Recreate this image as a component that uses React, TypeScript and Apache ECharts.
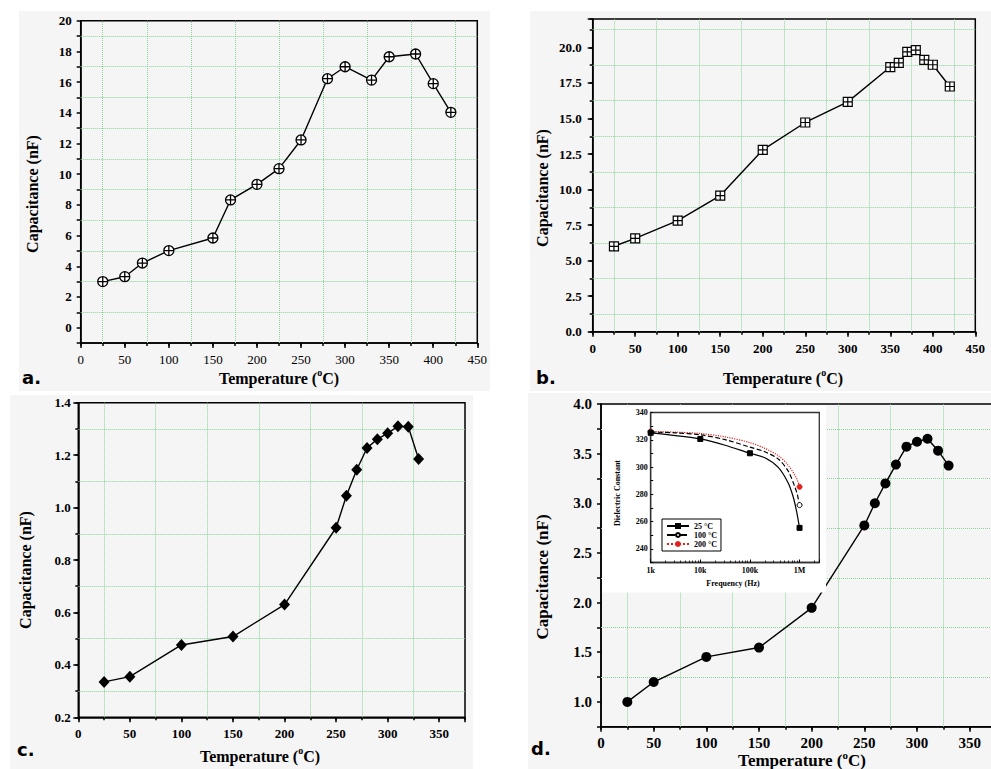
import React, { useEffect, useRef } from 'react';
import * as echarts from 'echarts';

// ---------- Panel a ----------
const tempA = [25, 50, 70, 100, 150, 170, 200, 225, 250, 280, 300, 330, 350, 380, 400, 420];
const capA = [3.0, 3.32, 4.21, 5.02, 5.84, 8.32, 9.34, 10.36, 12.23, 16.22, 17.0, 16.13, 17.65, 17.83, 15.9, 14.03];
const gridXA = [25, 75, 125, 175, 225, 275, 325, 375, 425];
const gridYA = [1, 3, 5, 7, 9, 11, 13, 15, 17, 19];

// ---------- Panel b ----------
const tempB = [25, 50, 100, 150, 200, 250, 300, 350, 360, 370, 380, 390, 400, 420];
const capB = [6.01, 6.57, 7.82, 9.58, 12.79, 14.72, 16.17, 18.62, 18.92, 19.69, 19.81, 19.13, 18.78, 17.25];
const gridXB = [25, 75, 125, 175, 225, 275, 325, 375, 425];
const gridYB = [1.25, 3.75, 6.25, 8.75, 11.25, 13.75, 16.25, 18.75, 21.25];

// ---------- Panel c ----------
const tempC = [25, 50, 100, 150, 200, 250, 260, 270, 280, 290, 300, 310, 320, 330];
const capC = [0.335, 0.355, 0.476, 0.508, 0.63, 0.923, 1.045, 1.144, 1.227, 1.261, 1.283, 1.31, 1.308, 1.185];
const gridXC = [25, 75, 125, 175, 225, 275, 325];
const gridYC = [0.3, 0.5, 0.7, 0.9, 1.1, 1.3];

// ---------- Panel d ----------
const tempD = [25, 50, 100, 150, 200, 250, 260, 270, 280, 290, 300, 310, 320, 330];
const capD = [1.0, 1.2, 1.453, 1.547, 1.947, 2.777, 3.0, 3.2, 3.39, 3.57, 3.62, 3.65, 3.53, 3.38];
const gridXD = [25, 75, 125, 175, 225, 275, 325];
const gridYD = [1.25, 1.75, 2.25, 2.75, 3.25, 3.75];

// ---------- Inset (panel d) : dielectric constant vs frequency ----------
const freq25 = [1000, 3160, 10000, 31600, 100000, 200000, 372000, 587000, 738000, 859000, 1000000];
const eps25 = [325.1, 323.1, 320.6, 316.0, 310.1, 306.8, 299.7, 288.5, 278.6, 268.6, 255.4];
const marks25 = [0, 2, 4, 10];
const freq100 = [1000, 3160, 10000, 31600, 100000, 200000, 372000, 587000, 794000, 900000, 1000000];
const eps100 = [325.6, 325.1, 323.6, 320.1, 314.6, 311.2, 305.9, 297.2, 286.0, 280.0, 272.1];
const marks100 = [0, 10];
const freq200 = [1000, 3160, 10000, 31600, 100000, 200000, 372000, 587000, 859000, 1000000];
const eps200 = [326.0, 325.6, 324.6, 322.1, 317.9, 313.7, 308.4, 301.4, 292.2, 285.5];
const marks200 = [0, 9];
const insetXLabels = ['1k', '10k', '100k', '1M'];
const legendNames = ['25 °C', '100 °C', '200 °C'];

const SERIF = "'Liberation Serif', 'Times New Roman', serif";
const SANS = "'DejaVu Sans', Verdana, sans-serif";
const GREEN = '#86d49a';
const PANEL_BG = '#f5f5f5';

const SYM_CIRCLE_PLUS = 'path://M10 0A10 10 0 1 1 -10 0A10 10 0 1 1 10 0ZM-10 0L10 0M0 -10L0 10';
const SYM_SQUARE_PLUS = 'path://M-10 -10L10 -10L10 10L-10 10ZM-10 0L10 0M0 -10L0 10';

const isMult = (v: number, s: number) => Math.abs(v / s - Math.round(v / s)) < 1e-6;

type AxOpts = {
  type?: string; interval?: number; fmt?: ((v: number) => string) | null; fontSize?: number; fontWeight?: string;
  margin?: number; tickLen?: number; tickWidth?: number; inside?: boolean; showLine?: boolean; z?: number;
  lineColor?: string; lineWidth?: number; minor?: any;
};

function makeAxis(dim: 'x' | 'y', gi: number, min: number, max: number, o: AxOpts) {
  const ax: any = {
    type: o.type || 'value', gridIndex: gi, min, max, position: dim === 'x' ? 'bottom' : 'left', z: o.z ?? 0,
    splitLine: { show: false }, minorSplitLine: { show: false },
    minorTick: o.minor || { show: false },
    axisLine: { show: o.showLine !== false, onZero: false, lineStyle: { color: o.lineColor || '#000', width: o.lineWidth ?? 1.5 } },
    axisTick: { show: true, inside: !!o.inside, length: o.tickLen ?? 5, lineStyle: { color: '#000', width: o.tickWidth ?? 1.5 } },
    axisLabel: o.fmt
      ? { show: true, formatter: o.fmt, margin: o.margin ?? 8, color: '#000', fontFamily: SERIF, fontSize: o.fontSize ?? 13, fontWeight: o.fontWeight || 'bold', hideOverlap: false, showMinLabel: true, showMaxLabel: true }
      : { show: false },
  };
  if (o.interval != null) ax.interval = o.interval;
  if (o.type === 'log') ax.logBase = 10;
  return ax;
}

function mainSeries(xi: number, yi: number, xs: number[], ys: number[], symbol: string, size: any, itemStyle: any, gx: number[], gy: number[]) {
  return {
    type: 'line', xAxisIndex: xi, yAxisIndex: yi, data: xs.map((x, i) => [x, ys[i]]),
    symbol, symbolSize: size, showSymbol: true, showAllSymbol: true, silent: true,
    itemStyle, lineStyle: { color: '#000', width: 1.4 }, z: 3,
    markLine: {
      silent: true, z: 1, symbol: ['none', 'none'], label: { show: false }, emphasis: { disabled: true },
      lineStyle: { color: GREEN, type: 'dotted', width: 1 },
      data: [...gx.map((v) => ({ xAxis: v })), ...gy.map((v) => ({ yAxis: v }))],
    },
  };
}

function insetSeries(name: string, xi: number, yi: number, fs: number[], es: number[], marks: number[], symbol: string,
  color: string, fill: string, lineType: string, z: number) {
  return {
    type: 'line', name, xAxisIndex: xi, yAxisIndex: yi, z, smooth: 0.3,
    symbol, symbolSize: 5, showSymbol: true, showAllSymbol: true, silent: true,
    data: fs.map((f, i) => ({ value: [f, es[i]], symbol: marks.includes(i) ? symbol : 'none' })),
    lineStyle: { color, width: 1.2, type: lineType },
    itemStyle: { color: fill, borderColor: color, borderWidth: 1 },
  };
}

function title(text: string, x: number, y: number, size: number, rotate = false, family = SERIF, align = 'center') {
  return {
    type: 'text', x, y, rotation: rotate ? Math.PI / 2 : 0, z: 20, silent: true,
    style: {
      text, fill: '#000', fontFamily: family, fontSize: size, fontWeight: 'bold', align, verticalAlign: 'middle',
      rich: {
        m: { fontSize: size, fontFamily: family, fontWeight: 'bold', fill: '#000', lineHeight: Math.round(size * 1.3) },
        s: { fontSize: Math.round(size * 0.62), fontFamily: family, fontWeight: 'bold', fill: '#000', verticalAlign: 'top', lineHeight: Math.round(size * 0.62) },
      },
    },
  };
}

function tempTitle(x: number, y: number, size: number) {
  return title('{m|Temperature (}{s|o}{m|C)}', x, y, size);
}

function rect(x: number, y: number, w: number, h: number, fill: string, z: number) {
  return { type: 'rect', shape: { x, y, width: w, height: h }, style: { fill }, z, silent: true };
}

function buildOption() {
  const m50 = (v: number) => (isMult(v, 50) ? String(Math.round(v)) : '');
  const even = (v: number) => (isMult(v, 2) ? String(Math.round(v)) : '');
  const m25d = (v: number) => (isMult(v, 2.5) ? v.toFixed(1) : '');
  const f1 = (v: number) => v.toFixed(1);
  const m05 = (v: number) => (isMult(v, 0.5) ? v.toFixed(1) : '');
  const m20 = (v: number) => (isMult(v, 20) ? String(Math.round(v)) : '');
  const logFmt = (v: number) => {
    const l = Math.log10(v);
    const r = Math.round(l);
    return Math.abs(l - r) < 0.01 && r >= 3 && r <= 6 ? insetXLabels[r - 3] : '';
  };

  const gridBase = { show: true, borderColor: '#000', borderWidth: 1.5, backgroundColor: 'rgba(0,0,0,0)', containLabel: false, outerBoundsMode: 'none' };
  const grid = [
    { ...gridBase, left: 80.7, top: 20.7, width: 396.6, height: 322.3 },
    { ...gridBase, left: 592.7, top: 19, width: 382.6, height: 312.7 },
    { ...gridBase, left: 78.3, top: 402.7, width: 386.7, height: 314.6 },
    { ...gridBase, left: 601, top: 404, width: 395, height: 322.7 },
    { ...gridBase, left: 650.7, top: 412.5, width: 168.6, height: 150, borderColor: '#333', borderWidth: 1.3, z: 10 },
  ];

  const xAxis: any[] = [];
  const yAxis: any[] = [];
  const addX = (a: any) => (xAxis.push(a), xAxis.length - 1);
  const addY = (a: any) => (yAxis.push(a), yAxis.length - 1);

  // panel a
  const ax = addX(makeAxis('x', 0, 0, 450, { interval: 50, fmt: m50, fontWeight: 'normal', margin: 10 }));
  addX(makeAxis('x', 0, 0, 450, { interval: 25, tickLen: 3, showLine: false }));
  const ay = addY(makeAxis('y', 0, -1, 20, { interval: 1, fmt: even, margin: 9, tickLen: 4 }));
  // panel b
  const bx = addX(makeAxis('x', 1, 0, 450, { interval: 50, fmt: m50, margin: 10 }));
  addX(makeAxis('x', 1, 0, 450, { interval: 25, tickLen: 3, showLine: false }));
  const by = addY(makeAxis('y', 1, 0, 22, { interval: 2.5, fmt: m25d, margin: 11 }));
  addY(makeAxis('y', 1, 0, 22, { interval: 1.25, tickLen: 3, showLine: false }));
  // panel c
  const cx = addX(makeAxis('x', 2, 0, 375, { interval: 50, fmt: m50, margin: 10 }));
  addX(makeAxis('x', 2, 0, 375, { interval: 25, tickLen: 3, showLine: false }));
  const cy = addY(makeAxis('y', 2, 0.2, 1.4, { interval: 0.2, fmt: f1, margin: 7.5 }));
  addY(makeAxis('y', 2, 0.2, 1.4, { interval: 0.1, tickLen: 3, showLine: false }));
  // panel d
  const dx = addX(makeAxis('x', 3, 0, 375, { interval: 50, fmt: m50, fontSize: 15, margin: 9 }));
  addX(makeAxis('x', 3, 0, 375, { interval: 25, tickLen: 3, showLine: false }));
  const dy = addY(makeAxis('y', 3, 0.75, 4.0, { interval: 0.25, fmt: m05, fontSize: 15, margin: 9, tickLen: 4 }));
  // inset
  const ix = addX(makeAxis('x', 4, 1000, 2500000, {
    type: 'log', fmt: logFmt, fontSize: 8, margin: 4, tickLen: 3, tickWidth: 1, inside: true, z: 10, lineColor: '#333', lineWidth: 1.3,
    minor: { show: true, splitNumber: 9, length: 2, lineStyle: { color: '#000', width: 0.8 } },
  }));
  const iy = addY(makeAxis('y', 4, 230, 340, {
    interval: 10, fmt: m20, fontSize: 8, margin: 3, tickLen: 2.5, tickWidth: 1, inside: true, z: 10, lineColor: '#333', lineWidth: 1.3,
  }));

  const series = [
    mainSeries(ax, ay, tempA, capA, SYM_CIRCLE_PLUS, 10, { color: '#fff', borderColor: '#000', borderWidth: 1.3 }, gridXA, gridYA),
    mainSeries(bx, by, tempB, capB, SYM_SQUARE_PLUS, 9, { color: '#fff', borderColor: '#000', borderWidth: 1.2 }, gridXB, gridYB),
    mainSeries(cx, cy, tempC, capC, 'diamond', [11, 12], { color: '#000' }, gridXC, gridYC),
    mainSeries(dx, dy, tempD, capD, 'circle', 10, { color: '#000' }, gridXD, gridYD),
    insetSeries(legendNames[0], ix, iy, freq25, eps25, marks25, 'rect', '#000', '#000', 'solid', 13),
    insetSeries(legendNames[1], ix, iy, freq100, eps100, marks100, 'circle', '#000', '#fff', 'dashed', 12),
    insetSeries(legendNames[2], ix, iy, freq200, eps200, marks200, 'circle', '#e3201b', '#e3201b', 'dotted', 11),
  ];

  const graphic = {
    elements: [
      rect(19, 11, 471, 380, PANEL_BG, -10),
      rect(530, 11, 461, 380, PANEL_BG, -10),
      rect(10, 395, 463, 374, PANEL_BG, -10),
      rect(528, 393, 463, 376, PANEL_BG, -10),
      rect(602, 405.5, 224, 187, '#fff', 5),
      title('Capacitance (nF)', 32, 194, 16, true),
      tempTitle(279, 378, 16),
      title('Capacitance (nF)', 542, 188, 16, true),
      tempTitle(783, 378, 16),
      title('Capacitance (nF)', 25, 570, 16, true),
      tempTitle(260, 756, 16),
      title('Capacitance (nF)', 542, 577, 17, true),
      tempTitle(802, 760, 17),
      title('Dielectric Constant', 617, 493, 8, true),
      title('Frequency (Hz)', 733, 583, 8),
      title('a.', 22, 377, 18, false, SANS, 'left'),
      title('b.', 536, 377, 18, false, SANS, 'left'),
      title('c.', 17, 749, 18, false, SANS, 'left'),
      title('d.', 531, 748, 18, false, SANS, 'left'),
    ],
  };

  return {
    animation: false,
    backgroundColor: '#fff',
    grid,
    xAxis,
    yAxis,
    series,
    graphic,
    legend: {
      show: true, data: legendNames, orient: 'vertical', left: 662, top: 519, z: 14,
      itemWidth: 22, itemHeight: 5, itemGap: 1, padding: [3, 4, 3, 4], selectedMode: false,
      borderColor: '#000', borderWidth: 1, backgroundColor: '#fff',
      textStyle: { fontFamily: SERIF, fontSize: 8, fontWeight: 'bold', color: '#000' },
    },
  };
}

export default function App() {
  const ref = useRef<HTMLDivElement>(null);
  useEffect(() => {
    if (!ref.current) return;
    const chart = echarts.init(ref.current, null, { renderer: 'svg' });
    chart.setOption(buildOption() as any);
    return () => chart.dispose();
  }, []);
  return <div ref={ref} style={{ position: 'fixed', left: 0, top: 0, width: 991, height: 769, background: '#fff' }} />;
}
